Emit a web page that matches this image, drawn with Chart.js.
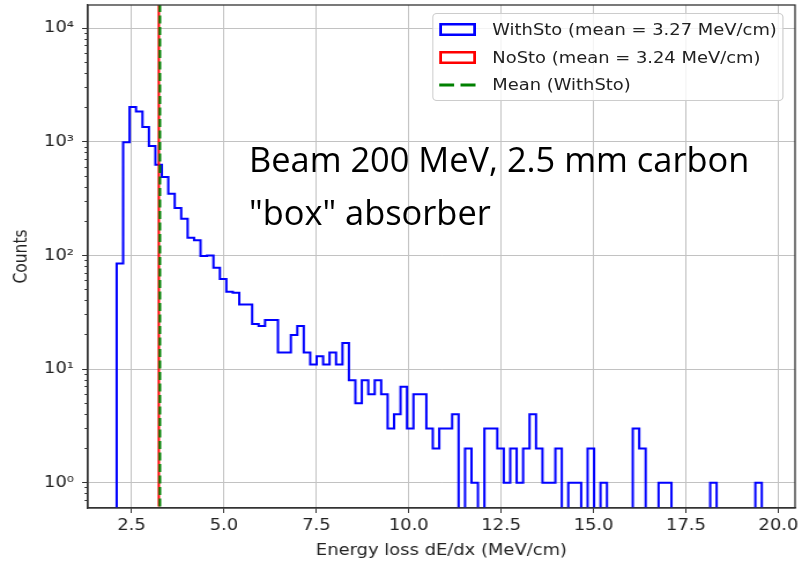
<!DOCTYPE html>
<html>
<head>
<meta charset="utf-8">
<script src="https://cdn.jsdelivr.net/npm/chart.js@4.4.1/dist/chart.umd.min.js"></script>
<style>
  body { margin: 0; background: #fff; }
  #stage { position: relative; width: 802px; height: 567px; overflow: hidden; }
  /* the reference figure is stretched sideways, so the whole plot is too */
  #plot { position: absolute; left: 0; top: 0; width: 694px; height: 567px;
          transform: scaleX(1.15562); transform-origin: 0 0; }
  #legend { position: absolute; left: 374px; top: 13px; width: 304px; height: 88px;
            box-sizing: border-box; border: 1px solid #cccccc; border-radius: 4px;
            background: rgba(255,255,255,0.8); font: 15.5px "DejaVu Sans"; color: #222; }
  .row { position: absolute; left: 0; height: 20px; width: 100%; }
  .row svg { position: absolute; left: 5px; top: 3px; }
  .row span { position: absolute; left: 51px; top: 0; line-height: 20px; white-space: nowrap; }
  #note { position: absolute; left: 249px; top: 132px; font: 34.4px "Open Sans"; line-height: 53px; color: #000; }
</style>
</head>
<body>
<div id="stage">
  <div id="plot">
    <canvas id="histChart" width="694" height="567"></canvas>
    <div id="legend"></div>
  </div>
  <div id="note">Beam 200 MeV, 2.5 mm carbon<br>"box" absorber</div>
</div>
<script>
// histogram bins (dE/dx, MeV/cm)
const binStart = 2.10;
const binWidth = 0.1745;
const withStoCounts = [
  85, 990, 2030, 1850, 1350, 920, 630, 490, 350, 262,
  211, 143, 136, 99, 100, 78, 62, 48, 47, 37,
  37, 25, 24, 27, 27, 14, 14, 20, 24, 14,
  11, 13, 11, 14, 11, 17, 8, 5, 8, 6,
  8, 6, 3, 4, 7, 3, 6, 6, 3, 2,
  3, 3, 4, 0, 2, 1, 0, 3, 3, 2,
  1, 2, 1, 2, 4, 2, 1, 1, 2, 0,
  1, 1, 0, 2, 0, 1, 0, 0, 0, 0,
  3, 2, 0, 0, 1, 1, 0, 0, 0, 0,
  0, 0, 1, 0, 0, 0, 0, 0, 0, 1
];
const meanWithSto = 3.27;
const meanNoSto = 3.24;
const seriesLabels = ['WithSto (mean = 3.27 MeV/cm)', 'NoSto (mean = 3.24 MeV/cm)', 'Mean (WithSto)'];

const xTickValues = [2.5, 5.0, 7.5, 10.0, 12.5, 15.0, 17.5, 20.0];
const xMin = 1.32, xMax = 20.45;
const yMin = 0.62, yMax = 16000;

const textColor = '#222';
const gridColor = '#c2c2c2';
const spineColor = '#333';

Chart.defaults.font.family = 'DejaVu Sans';
Chart.defaults.font.size = 15.5;
Chart.defaults.color = textColor;

function stepPoints(counts) {
    const floor = yMin / 10; // empty bins fall below the axis and get clipped
    const pts = [{x: binStart, y: floor}];
    counts.forEach(function(c, i) {
        pts.push({x: binStart + i * binWidth, y: c > 0 ? c : floor});
    });
    const end = binStart + counts.length * binWidth;
    const last = counts[counts.length - 1];
    pts.push({x: end, y: last > 0 ? last : floor});
    pts.push({x: end, y: floor});
    return pts;
}

function vline(x) {
    return [{x: x, y: yMin}, {x: x, y: yMax}];
}

const SUP = {'0': '⁰', '1': '¹', '2': '²', '3': '³', '4': '⁴', '5': '⁵', '6': '⁶', '7': '⁷', '8': '⁸', '9': '⁹', '-': '⁻'};
function powLabel(v) {
    const e = String(Math.round(Math.log10(v)));
    return '10' + e.split('').map(function(ch) { return SUP[ch]; }).join('');
}

// top and right spines
const framePlugin = {
    id: 'frame',
    afterDatasetsDraw(chart) {
        const ctx = chart.ctx, a = chart.chartArea;
        ctx.save();
        ctx.strokeStyle = spineColor;
        ctx.lineWidth = 1.3;
        ctx.strokeRect(a.left, a.top, a.right - a.left, a.bottom - a.top);
        ctx.restore();
    }
};

const ctx = document.getElementById('histChart').getContext('2d');
const histChart = new Chart(ctx, {
    type: 'line',
    data: {
        datasets: [
            {
                label: seriesLabels[0],
                data: stepPoints(withStoCounts),
                borderColor: '#0000ff',
                borderWidth: 2,
                // horizontal at the previous count, then vertical at the bin edge
                stepped: 'before',
                pointRadius: 0,
                fill: false,
                clip: 0,
                order: 3,
                handle: 'box'
            },
            {
                label: seriesLabels[1],
                data: vline(meanNoSto),
                borderColor: '#ff0000',
                borderWidth: 2,
                pointRadius: 0,
                clip: 0,
                order: 2,
                handle: 'box'
            },
            {
                label: seriesLabels[2],
                data: vline(meanWithSto),
                borderColor: '#008000',
                borderWidth: 2.2,
                borderDash: [8, 3.5],
                pointRadius: 0,
                clip: 0,
                order: 1,
                handle: 'line'
            }
        ]
    },
    options: {
        responsive: false,
        animation: false,
        layout: { padding: { top: 5, right: 6, left: 0, bottom: 0 } },
        plugins: {
            legend: { display: false },
            tooltip: { enabled: false }
        },
        scales: {
            x: {
                type: 'linear',
                min: xMin,
                max: xMax,
                afterBuildTicks: function(scale) {
                    scale.ticks = xTickValues.map(function(v) { return {value: v}; });
                },
                afterFit: function(scale) {
                    scale.height = 59;
                    scale.paddingLeft = 0;
                    scale.paddingRight = 0;
                },
                ticks: {
                    autoSkip: false,
                    maxRotation: 0,
                    padding: 4,
                    color: textColor,
                    callback: function(v) { return Number(v).toFixed(1); }
                },
                grid: { color: gridColor, lineWidth: 1, tickLength: 5, tickColor: spineColor },
                border: { display: true, color: spineColor, width: 1.3 },
                title: {
                    display: true,
                    text: 'Energy loss dE/dx (MeV/cm)',
                    color: textColor,
                    padding: { top: 0, bottom: 6.7 }
                }
            },
            y: {
                type: 'logarithmic',
                min: yMin,
                max: yMax,
                afterBuildTicks: function(scale) {
                    const ticks = [];
                    for (let e = -1; e <= 4; e++) {
                        for (let k = 1; k <= 9; k++) {
                            const v = k * Math.pow(10, e);
                            if (v >= yMin && v <= yMax) ticks.push({value: v, major: k === 1});
                        }
                    }
                    scale.ticks = ticks;
                },
                afterFit: function(scale) {
                    scale.width = 76;
                    scale.paddingTop = 0;
                    scale.paddingBottom = 0;
                },
                ticks: {
                    autoSkip: false,
                    padding: 7,
                    color: textColor,
                    callback: function(v, i, ticks) { return ticks[i].major ? powLabel(v) : ''; }
                },
                grid: {
                    color: function(c) { return c.tick && c.tick.major ? gridColor : 'transparent'; },
                    lineWidth: 1,
                    tickLength: 5,
                    tickColor: spineColor,
                    // minor ticks: only the inner 2.8px of the tick mark
                    tickBorderDash: function(c) { return c.tick && c.tick.major ? [] : [0, 2.2, 2.8, 20]; }
                },
                border: { display: true, color: spineColor, width: 1.3 },
                title: {
                    display: true,
                    text: 'Counts',
                    color: textColor,
                    padding: { top: 10, bottom: 0 }
                }
            }
        }
    },
    plugins: [framePlugin]
});

// legend drawn like the matplotlib one, inside the axes
const rowCenters = [16, 43.5, 71];
const legendEl = document.getElementById('legend');
histChart.data.datasets.forEach(function(ds, i) {
    const row = document.createElement('div');
    row.className = 'row';
    row.style.top = (rowCenters[i] - 10) + 'px';
    let svg;
    if (ds.handle === 'box') {
        svg = '<svg width="32" height="14"><rect x="1.25" y="1.25" width="29.5" height="10.5" fill="#fff" stroke="' +
              ds.borderColor + '" stroke-width="2.5"/></svg>';
    } else {
        svg = '<svg width="32" height="14"><line x1="0" y1="7" x2="32" y2="7" stroke="' +
              ds.borderColor + '" stroke-width="3" stroke-dasharray="13 5.5"/></svg>';
    }
    row.innerHTML = svg + '<span>' + ds.label + '</span>';
    legendEl.appendChild(row);
});
</script>
</body>
</html>
